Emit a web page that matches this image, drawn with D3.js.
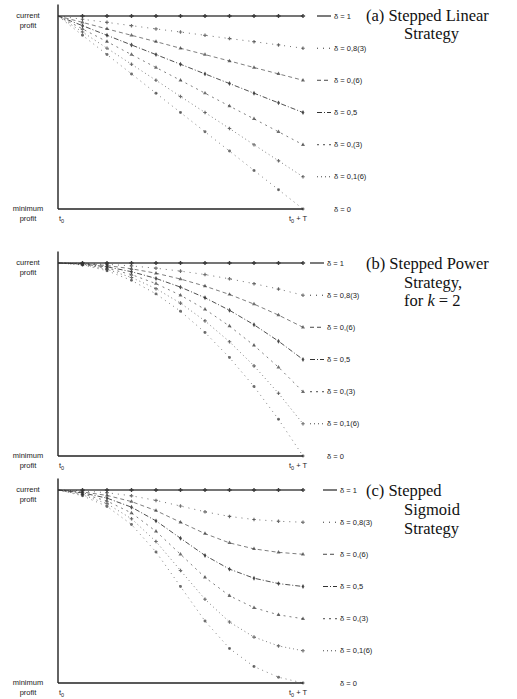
<!DOCTYPE html>
<meta charset="utf-8">
<style>
  body { margin: 0; background: #fff; }
  svg { display: block; }
  .side { font-family: "Liberation Sans", Arial, sans-serif; font-size: 7.5px; fill: #222; }
  .title { font-family: "Liberation Serif", "DejaVu Serif", serif; font-size: 16.5px; fill: #111; }
</style>
<body>
<script src="https://d3js.org/d3.v7.min.js"></script>
<script>

// time steps between t0 and t0 + T
var steps = [0, 1, 2, 3, 4, 5, 6, 7, 8, 9, 10];
var deltas = ["δ = 1", "δ = 0,8(3)", "δ = 0,(6)", "δ = 0,5", "δ = 0,(3)", "δ = 0,1(6)", "δ = 0"];

// profit (1 = current, 0 = minimum), one row per δ
var linear = [
  [1, 1, 1, 1, 1, 1, 1, 1, 1, 1, 1],
  [1, .983, .967, .95, .933, .917, .9, .883, .867, .85, .833],
  [1, .967, .933, .9, .867, .833, .8, .767, .733, .7, .667],
  [1, .95, .9, .85, .8, .75, .7, .65, .6, .55, .5],
  [1, .933, .867, .8, .733, .667, .6, .533, .467, .4, .333],
  [1, .917, .833, .75, .667, .583, .5, .417, .333, .25, .167],
  [1, .9, .8, .7, .6, .5, .4, .3, .2, .1, 0]
];
var power = [
  [1, 1, 1, 1, 1, 1, 1, 1, 1, 1, 1],
  [1, .998, .993, .985, .973, .958, .94, .918, .893, .865, .833],
  [1, .997, .987, .97, .947, .917, .88, .837, .787, .73, .667],
  [1, .995, .98, .955, .92, .875, .82, .755, .68, .595, .5],
  [1, .993, .973, .94, .893, .833, .76, .673, .573, .46, .333],
  [1, .992, .967, .925, .867, .792, .7, .592, .467, .325, .167],
  [1, .99, .96, .91, .84, .75, .64, .51, .36, .19, 0]
];
var sigmoid = [
  [1, 1, 1, 1, 1, 1, 1, 1, 1, 1, 1],
  [1, .995, .986, .97, .946, .917, .887, .863, .847, .838, .833],
  [1, .99, .972, .94, .893, .833, .774, .726, .695, .677, .667],
  [1, .985, .958, .911, .84, .75, .661, .59, .543, .515, .5],
  [1, .98, .943, .881, .786, .667, .547, .452, .39, .353, .333],
  [1, .975, .929, .851, .733, .583, .434, .316, .238, .192, .167],
  [1, .97, .915, .821, .679, .5, .321, .179, .085, .03, 0]
];

var titles = [
  ["(a) Stepped Linear", "Strategy"],
  ["(b) Stepped Power", "Strategy,", "for k = 2"],
  ["(c) Stepped", "Sigmoid", "Strategy"]
];

var panels = [
  {values: linear, top: 16, labelX: 334, titleY: 21, titleGap: 18},
  {values: power, top: 263, labelX: 327, titleY: 269, titleGap: 18.5},
  {values: sigmoid, top: 490, labelX: 340, titleY: 496, titleGap: 19}
];

var styles = [
  {dash: null, w: 1.3, sym: d3.symbolCross, op: 0.9},
  {dash: "1,5", w: 1, sym: d3.symbolCross, op: 0.7},
  {dash: "4,3", w: 0.9, sym: d3.symbolTriangle, op: 0.7},
  {dash: "5,2,1,2", w: 1, sym: d3.symbolDiamond, op: 0.85},
  {dash: "2,4", w: 0.9, sym: d3.symbolTriangle, op: 0.7},
  {dash: "1,3", w: 0.9, sym: d3.symbolCross, op: 0.7},
  {dash: "1,4", w: 0.9, sym: d3.symbolCircle, op: 0.7}
];

var svg = d3.select("body").append("svg")
    .attr("width", 517)
    .attr("height", 699);

var x = d3.scaleLinear().domain([0, 10]).range([58, 303]);

panels.forEach(function(p, pi) {
  var y = d3.scaleLinear().domain([0, 1]).range([p.top + 193, p.top]);
  var g = svg.append("g");

  // axes
  g.append("line")
      .attr("x1", x(0)).attr("x2", x(0))
      .attr("y1", y(1.06)).attr("y2", y(0))
      .attr("stroke", "#222").attr("stroke-width", 1.4);
  g.append("line")
      .attr("x1", x(0)).attr("x2", x(10))
      .attr("y1", y(0)).attr("y2", y(0))
      .attr("stroke", "#222").attr("stroke-width", 1.3);

  var line = d3.line()
      .x(function(d, i) { return x(steps[i]); })
      .y(function(d) { return y(d); });

  p.values.forEach(function(vals, si) {
    var s = styles[si];
    g.append("path")
        .attr("d", line(vals))
        .attr("fill", "none")
        .attr("stroke", "#333")
        .attr("stroke-opacity", s.op)
        .attr("stroke-width", s.w)
        .attr("stroke-dasharray", s.dash);

    g.selectAll(null)
        .data(vals.slice(1))
      .enter().append("path")
        .attr("d", d3.symbol().type(s.sym).size(si === 0 ? 10 : 7))
        .attr("transform", function(d, i) {
          return "translate(" + x(steps[i + 1]) + "," + y(d) + ")";
        })
        .attr("fill", "#333")
        .attr("fill-opacity", s.op);

    // legend entry at the end of each line
    var ly = y(vals[vals.length - 1]);
    if (si < deltas.length - 1) {
      g.append("line")
          .attr("x1", p.labelX - 17).attr("x2", p.labelX - 3)
          .attr("y1", ly).attr("y2", ly)
          .attr("stroke", "#333")
          .attr("stroke-width", s.w)
          .attr("stroke-dasharray", s.dash);
    }
    g.append("text")
        .attr("class", "side")
        .attr("x", p.labelX)
        .attr("y", ly + 2.5)
        .text(deltas[si]);
  });

  // left labels
  [["current", y(1) + 2], ["profit", y(1) + 12], ["minimum", y(0) + 2], ["profit", y(0) + 12]]
    .forEach(function(t) {
      g.append("text").attr("class", "side")
          .attr("x", 28).attr("y", t[1])
          .attr("text-anchor", "middle")
          .text(t[0]);
    });

  var t0 = g.append("text").attr("class", "side")
      .attr("x", x(0) + 1).attr("y", y(0) + 12);
  t0.append("tspan").text("t");
  t0.append("tspan").attr("font-size", "5.5px").attr("dy", 1.5).text("0");

  var tT = g.append("text").attr("class", "side")
      .attr("x", x(10) - 14).attr("y", y(0) + 12);
  tT.append("tspan").text("t");
  tT.append("tspan").attr("font-size", "5.5px").attr("dy", 1.5).text("0");
  tT.append("tspan").attr("dy", -1.5).text(" + T");

  // title
  titles[pi].forEach(function(txt, li) {
    var tx = g.append("text").attr("class", "title")
        .attr("x", li === 0 ? 366 : 404)
        .attr("y", p.titleY + li * p.titleGap);
    if (txt === "for k = 2") {
      tx.append("tspan").text("for ");
      tx.append("tspan").attr("font-style", "italic").text("k");
      tx.append("tspan").text(" = 2");
    } else {
      tx.text(txt);
    }
  });
});

</script>
